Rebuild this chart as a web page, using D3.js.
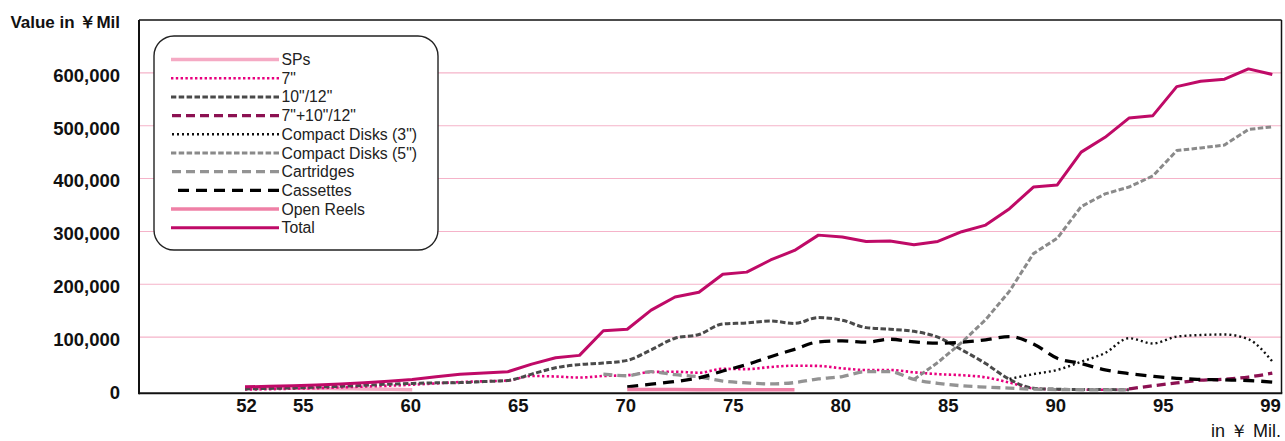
<!DOCTYPE html>
<html>
<head>
<meta charset="utf-8">
<script src="https://cdn.jsdelivr.net/npm/d3@7"></script>
<style>
  html, body { margin: 0; padding: 0; background: #fff; }
  svg { display: block; }
</style>
</head>
<body>
<svg id="chart" width="1285" height="441"></svg>
<script>
// Audio software production value by format, in ¥ million
const years = [1952, 1955, 1958, 1959, 1960, 1961, 1962, 1963, 1964, 1965,
  1966, 1967, 1968, 1969, 1970, 1971, 1972, 1973, 1974, 1975,
  1976, 1977, 1978, 1979, 1980, 1981, 1982, 1983, 1984, 1985,
  1986, 1987, 1988, 1989, 1990, 1991, 1992, 1993, 1994, 1995,
  1996, 1997, 1998, 1999];

const N = null;
const sps = [4400, 4000, 3500, 3000, 2500, 2000, 1500, 600, N, N,
  N, N, N, N, N, N, N, N, N, N,
  N, N, N, N, N, N, N, N, N, N,
  N, N, N, N, N, N, N, N, N, N,
  N, N, N, N];
const sevenInch = [1000, 1500, 2500, 3500, 5000, 6500, 8000, 10000, 12500, 15000,
  16500, 18000, 26500, 25500, 23500, 26500, 28000, 34000, 34600, 32700,
  40000, 39500, 43500, 46000, 45500, 41000, 37800, 37800, 33500, 30000,
  28000, 24000, 14000, 3000, 1000, 600, 500, 400, N, N,
  N, N, N, N];
const lp = [2000, 3000, 4000, 5500, 7000, 9000, 11000, 12500, 13500, 14000,
  16000, 18000, 30000, 42000, 48000, 51000, 56000, 76000, 98000, 105000,
  125000, 127000, 130500, 126000, 137000, 132000, 118000, 115000, 111000, 100000,
  76000, 50000, 20000, 3500, 1500, 1000, 800, 600, N, N,
  N, N, N, N];
const analogCombined = [N, N, N, N, N, N, N, N, N, N,
  N, N, N, N, N, N, N, N, N, N,
  N, N, N, N, N, N, N, N, N, N,
  N, N, N, N, N, N, N, 2000, 8000, 13500,
  18500, 20500, 24500, 32000];
const cd3 = [N, N, N, N, N, N, N, N, N, N,
  N, N, N, N, N, N, N, N, N, N,
  N, N, N, N, N, N, N, N, N, N,
  N, N, 21000, 30000, 38000, 53500, 70000, 98000, 88000, 101000,
  104000, 105000, 96000, 54000];
const cd5 = [N, N, N, N, N, N, N, N, N, N,
  N, N, N, N, N, N, N, N, N, N,
  N, N, N, N, N, N, N, N, 20000, 52000,
  90000, 133000, 187000, 258000, 287000, 347000, 371000, 384000, 405000, 453000,
  458000, 463500, 493000, 498000];
const cartridges = [N, N, N, N, N, N, N, N, N, N,
  N, N, N, N, N, 30000, 27000, 34600, 29000, 25000,
  17000, 13500, 11500, 14000, 21000, 25500, 34600, 34600, 20000, 12700,
  8000, 5500, 3500, 1500, 800, 500, 400, 300, N, N,
  N, N, N, N];
const cassettes = [N, N, N, N, N, N, N, N, N, N,
  N, N, N, N, N, N, 6000, 11000, 16000, 23000,
  36000, 48000, 63000, 77000, 91000, 93000, 90500, 96000, 91000, 88500,
  90500, 95000, 101000, 87000, 60000, 50000, 38000, 31000, 26000, 22000,
  20000, 19000, 18000, 15000];
const openReels = [N, N, N, N, N, N, N, N, N, N,
  N, N, N, N, N, N, 800, 900, 800, 700,
  600, 600, 500, 500, N, N, N, N, N, N,
  N, N, N, N, N, N, N, N, N, N,
  N, N, N, N];
const total = [6000, 7000, 8000, 9500, 11500, 13500, 16500, 20000, 25000, 30000,
  32300, 34600, 49000, 61000, 65500, 112000, 115000, 151000, 176000, 185000,
  219000, 223000, 246000, 264000, 293000, 289500, 281000, 282000, 275000, 281000,
  299500, 312000, 343000, 384000, 388000, 450000, 478000, 514500, 519000, 574000,
  584000, 588000, 607500, 597000];

const seriesNames = ["SPs", "7\"", "10\"/12\"", "7\"+10\"/12\"", "Compact Disks (3\")",
  "Compact Disks (5\")", "Cartridges", "Cassettes", "Open Reels", "Total"];

const yTicks = [0, 100000, 200000, 300000, 400000, 500000, 600000];
const tickYears = [1952, 1955, 1960, 1965, 1970, 1975, 1980, 1985, 1990, 1995, 1999];

// Line styles for each format
const styles = {
  "SPs":               { color: "#f5aac4", width: 3.5, dash: null, curve: d3.curveMonotoneX },
  "7\"":               { color: "#e8007e", width: 2.6, dash: "2.4,2.4", curve: d3.curveMonotoneX },
  "10\"/12\"":         { color: "#4a4a4a", width: 3, dash: "5.5,2.4", curve: d3.curveMonotoneX },
  "7\"+10\"/12\"":     { color: "#8c1152", width: 3.3, dash: "9,5", curve: d3.curveMonotoneX },
  "Compact Disks (3\")": { color: "#111111", width: 2.4, dash: "2,3", curve: d3.curveMonotoneX },
  "Compact Disks (5\")": { color: "#8a8a8a", width: 3, dash: "5.5,2.4", curve: d3.curveLinear },
  "Cartridges":        { color: "#939393", width: 3.3, dash: "9,5", curve: d3.curveMonotoneX },
  "Cassettes":         { color: "#000000", width: 3.3, dash: "11,7", curve: d3.curveMonotoneX },
  "Open Reels":        { color: "#ef80a6", width: 3.5, dash: null, curve: d3.curveLinear },
  "Total":             { color: "#bf0a67", width: 3, dash: null, curve: d3.curveLinear }
};
const values = [sps, sevenInch, lp, analogCombined, cd3, cd5, cartridges, cassettes, openReels, total];

const svg = d3.select("#chart");
const font = "'Liberation Sans', Arial, Helvetica, sans-serif";

const plot = { left: 139, right: 1281.5, top: 20, zero: 390, axisY: 393.3 };

const x = d3.scalePoint().domain(years).range([245, 1272.3]);
const y = d3.scaleLinear().domain([0, 700000]).range([plot.zero, plot.top]);
// Year captions along the bottom edge follow their own even spacing
const tickX = d3.scaleLinear()
  .domain([1952, 1955, 1995, 1999])
  .range([246, 302.7, 1162.7, 1270]);

// Horizontal gridlines
svg.append("g")
  .selectAll("line")
  .data(yTicks.filter(d => d > 0))
  .join("line")
  .attr("x1", plot.left).attr("x2", plot.right)
  .attr("y1", d => y(d)).attr("y2", d => y(d))
  .attr("stroke", "#f5b3c9").attr("stroke-width", 1.1);

// Series lines
svg.append("clipPath").attr("id", "plot-clip")
  .append("rect")
  .attr("x", plot.left).attr("y", plot.top)
  .attr("width", plot.right - plot.left).attr("height", plot.axisY - plot.top);

const linesG = svg.append("g").attr("clip-path", "url(#plot-clip)");
seriesNames.forEach((name, i) => {
  const st = styles[name];
  const pts = years.map((yr, j) => ({ yr, v: values[i][j] })).filter(p => p.v !== null);
  const line = d3.line().x(p => x(p.yr)).y(p => y(p.v)).curve(st.curve);
  linesG.append("path")
    .datum(pts)
    .attr("d", line)
    .attr("fill", "none")
    .attr("stroke", st.color)
    .attr("stroke-width", st.width)
    .attr("stroke-dasharray", st.dash)
    .attr("stroke-linejoin", "round");
});

// Frame
const frame = svg.append("g").attr("stroke", "#111").attr("fill", "none");
frame.append("line").attr("x1", plot.left).attr("x2", plot.right)
  .attr("y1", plot.top).attr("y2", plot.top).attr("stroke-width", 1.5);
frame.append("line").attr("x1", plot.right).attr("x2", plot.right)
  .attr("y1", plot.top).attr("y2", plot.axisY).attr("stroke-width", 1.5);
frame.append("line").attr("x1", plot.left).attr("x2", plot.left)
  .attr("y1", plot.top).attr("y2", plot.axisY + 1).attr("stroke-width", 2);
frame.append("line").attr("x1", plot.left).attr("x2", plot.right + 0.8)
  .attr("y1", plot.axisY).attr("y2", plot.axisY).attr("stroke-width", 2);

// Y axis labels
const yAxis = svg.append("g")
  .attr("transform", `translate(${plot.left},0)`)
  .call(d3.axisLeft(y).tickValues(yTicks).tickSize(0).tickPadding(19).tickFormat(d3.format(",")));
yAxis.select(".domain").remove();
yAxis.selectAll("text")
  .attr("y", 2.5)
  .attr("font-family", font).attr("font-size", 18.5).attr("font-weight", "bold")
  .attr("fill", "#111");

// X axis labels
const xAxis = svg.append("g")
  .attr("transform", `translate(0,${plot.axisY})`)
  .call(d3.axisBottom(tickX).tickValues(tickYears).tickSize(0).tickPadding(5.4)
    .tickFormat(d => String(d).slice(2)));
xAxis.select(".domain").remove();
xAxis.selectAll("text")
  .attr("font-family", font).attr("font-size", 18.5).attr("font-weight", "bold")
  .attr("fill", "#111");

// Unit captions
svg.append("text")
  .attr("x", 120).attr("y", 28)
  .attr("text-anchor", "end")
  .attr("font-family", font).attr("font-size", 17).attr("font-weight", "bold")
  .attr("fill", "#111")
  .text("Value in ￥Mil");

svg.append("text")
  .attr("x", 1281).attr("y", 436.5)
  .attr("text-anchor", "end")
  .attr("font-family", font).attr("font-size", 18)
  .attr("fill", "#111")
  .text("in ￥ Mil.");

// Legend
const legend = svg.append("g");
legend.append("rect")
  .attr("x", 154).attr("y", 36).attr("width", 284).attr("height", 214)
  .attr("rx", 20).attr("ry", 20)
  .attr("fill", "#fff").attr("stroke", "#222").attr("stroke-width", 1.4);

const rowY = d3.scaleLinear().domain([0, seriesNames.length - 1]).range([59.5, 227.7]);
seriesNames.forEach((name, i) => {
  const st = styles[name];
  const ly = rowY(i);
  legend.append("line")
    .attr("x1", 279).attr("x2", 171)
    .attr("y1", ly).attr("y2", ly)
    .attr("stroke", st.color)
    .attr("stroke-width", st.width)
    .attr("stroke-dasharray", st.dash);
  legend.append("text")
    .attr("x", 281.5).attr("y", ly + 5.6)
    .attr("font-family", font).attr("font-size", 15.8)
    .attr("fill", "#222")
    .text(name);
});
</script>
</body>
</html>
